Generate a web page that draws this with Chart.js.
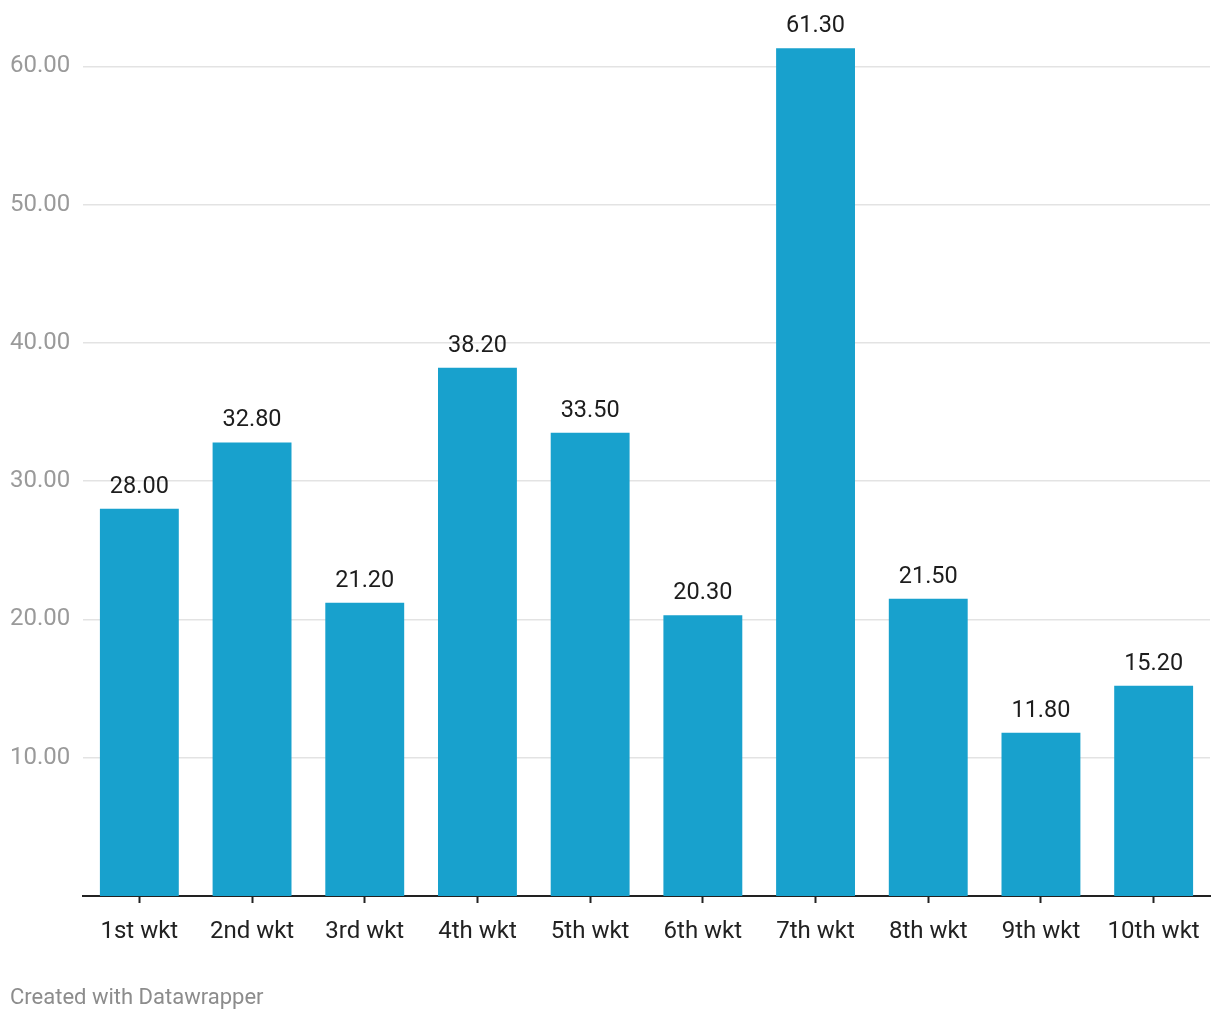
<!DOCTYPE html>
<html>
<head>
<meta charset="utf-8">
<script src="https://cdn.jsdelivr.net/npm/chart.js@4/dist/chart.umd.min.js"></script>
<style>
  html, body { margin: 0; padding: 0; background: #fff; }
  #wrap { position: relative; width: 1220px; height: 1020px; }
  #footer { position: absolute; left: 10px; top: 984px; font-family: Roboto, sans-serif; font-size: 22px; color: #8c8c8c; }
</style>
</head>
<body>
<div id="wrap">
  <canvas id="c" width="1220" height="1020"></canvas>
  <div id="footer">Created with Datawrapper</div>
</div>
<script>
const categories = ["1st wkt", "2nd wkt", "3rd wkt", "4th wkt", "5th wkt", "6th wkt", "7th wkt", "8th wkt", "9th wkt", "10th wkt"];
const averages = [28.0, 32.8, 21.2, 38.2, 33.5, 20.3, 61.3, 21.5, 11.8, 15.2];
const yTicks = [10, 20, 30, 40, 50, 60];

const valueLabels = {
  id: 'valueLabels',
  afterDatasetsDraw(chart) {
    const ctx = chart.ctx;
    const meta = chart.getDatasetMeta(0);
    ctx.save();
    ctx.font = '23.5px Roboto, sans-serif';
    ctx.fillStyle = '#1d1d1d';
    ctx.textAlign = 'center';
    ctx.textBaseline = 'alphabetic';
    meta.data.forEach((bar, i) => {
      ctx.fillText(averages[i].toFixed(2), bar.x, bar.y - 16);
    });
    ctx.restore();
  }
};

new Chart(document.getElementById('c'), {
  type: 'bar',
  data: {
    labels: categories,
    datasets: [{
      data: averages,
      backgroundColor: '#18a1cd',
      borderWidth: 0,
      categoryPercentage: 1.0,
      barPercentage: 0.70
    }]
  },
  options: {
    responsive: false,
    animation: false,
    devicePixelRatio: 1,
    layout: { padding: { left: 10, right: 10, top: 9, bottom: 64 } },
    plugins: { legend: { display: false }, tooltip: { enabled: false } },
    scales: {
      x: {
        offset: true,
        grid: { display: true, drawOnChartArea: false, offset: false, tickLength: 7, tickWidth: 2, tickColor: '#222' },
        border: { display: true, color: '#222', width: 2 },
        ticks: { color: '#222', font: { family: 'Roboto, sans-serif', size: 24 }, padding: 15, maxRotation: 0 },
        afterFit(scale) { scale.height = 60; }
      },
      y: {
        min: 0,
        max: 63.75,
        afterBuildTicks(scale) { scale.ticks = yTicks.map(v => ({ value: v })); },
        grid: { color: '#e3e3e3', lineWidth: 1.5, drawTicks: false },
        border: { display: false },
        ticks: {
          color: '#9a9a9a',
          font: { family: 'Roboto, sans-serif', size: 24 },
          crossAlign: 'far',
          padding: 0,
          callback: v => Number(v).toFixed(2)
        },
        afterFit(scale) { scale.width = 73; }
      }
    }
  },
  plugins: [valueLabels]
});
</script>
</body>
</html>
